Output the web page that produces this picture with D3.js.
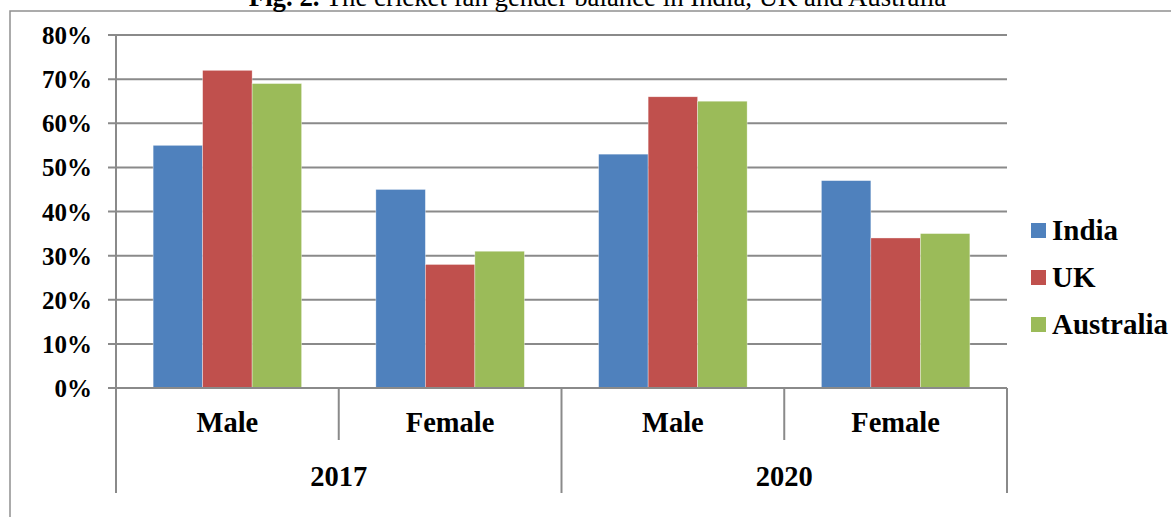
<!DOCTYPE html>
<html>
<head>
<meta charset="utf-8">
<script src="https://cdn.jsdelivr.net/npm/d3@7"></script>
<style>
html,body{margin:0;padding:0;background:#fff;overflow:hidden;}
svg{display:block;}
text{font-family:"Liberation Serif","Times New Roman",serif;fill:#000;}
</style>
</head>
<body>
<svg id="chart" width="1171" height="517"></svg>
<script>
const years = ["2017", "2020"];
const genders = ["Male", "Female"];
const series = ["India", "UK", "Australia"];
const india = [0.55, 0.45, 0.53, 0.47];
const uk = [0.72, 0.28, 0.66, 0.34];
const australia = [0.69, 0.31, 0.65, 0.35];
const yTicks = [0, 0.1, 0.2, 0.3, 0.4, 0.5, 0.6, 0.7, 0.8];
const colors = ["#4F81BD", "#C0504D", "#9BBB59"];

const valuesBySeries = [india, uk, australia];
const categories = [];
years.forEach(yr => genders.forEach(g => categories.push({year: yr, gender: g, id: yr + "-" + g})));

const svg = d3.select("#chart");
const plotLeft = 116, plotRight = 1007, plotTop = 35, plotBase = 388;

const x0 = d3.scaleBand().domain(categories.map(c => c.id)).range([plotLeft, plotRight]).padding(0);
const x1 = d3.scaleBand().domain(series).range([0, x0.bandwidth()]).paddingInner(0).paddingOuter(0.75);
const xYear = d3.scaleBand().domain(years).range([plotLeft, plotRight]).padding(0);
const y = d3.scaleLinear().domain([0, 0.8]).range([plotBase, plotTop]);
const gridColor = "#8a8a8a";

// frame
svg.append("path").attr("d", "M10,517V11H1171").attr("fill", "none")
  .attr("stroke", "#909090").attr("stroke-width", 1.5);

// title (partially cut off at top, as in the source figure)
const title = svg.append("text").attr("x", 597.5).attr("y", 5.5)
  .attr("text-anchor", "middle").style("font-size", "26.8px");
title.append("tspan").style("font-weight", "bold").text("Fig. 2.");
title.append("tspan").text(" The cricket fan gender balance in India, UK and Australia");

// gridlines + y ticks
svg.append("g").selectAll("line").data(yTicks.filter(d => d > 0)).join("line")
  .attr("x1", plotLeft - 8).attr("x2", plotRight)
  .attr("y1", d => y(d)).attr("y2", d => y(d))
  .attr("stroke", gridColor).attr("stroke-width", 2);

// y labels
svg.append("g").selectAll("text").data(yTicks).join("text")
  .attr("x", 92).attr("y", d => y(d) + 9)
  .attr("text-anchor", "end").style("font-size", "25px").style("font-weight", "bold")
  .text(d => d3.format(".0%")(d));

// bars
const cat = svg.append("g").selectAll("g").data(categories).join("g")
  .attr("transform", c => `translate(${x0(c.id)},0)`);
cat.selectAll("rect").data((c, i) => series.map((s, k) => ({s, k, v: valuesBySeries[k][i]}))).join("rect")
  .attr("x", d => x1(d.s)).attr("width", x1.bandwidth())
  .attr("y", d => y(d.v)).attr("height", d => plotBase - y(d.v))
  .attr("fill", d => colors[d.k]).attr("stroke", "#ffffff").attr("stroke-width", 0.6).attr("stroke-opacity", 0.6);

// y axis line
svg.append("line").attr("x1", plotLeft).attr("x2", plotLeft).attr("y1", plotTop).attr("y2", 493)
  .attr("stroke", gridColor).attr("stroke-width", 2);
// baseline
svg.append("line").attr("x1", plotLeft - 8).attr("x2", plotRight).attr("y1", plotBase).attr("y2", plotBase)
  .attr("stroke", gridColor).attr("stroke-width", 2);

// category separators
const catBounds = categories.map(c => x0(c.id)).concat([plotRight]);
svg.append("g").selectAll("line").data(catBounds).join("line")
  .attr("x1", d => d).attr("x2", d => d)
  .attr("y1", plotBase).attr("y2", (d, i) => (i % 2 === 0) ? 493 : 440)
  .attr("stroke", gridColor).attr("stroke-width", 2);

// category labels
svg.append("g").selectAll("text").data(categories).join("text")
  .attr("x", c => x0(c.id) + x0.bandwidth() / 2).attr("y", 432)
  .attr("text-anchor", "middle").style("font-size", "28.5px").style("font-weight", "bold")
  .text(c => c.gender);

// year labels
svg.append("g").selectAll("text").data(years).join("text")
  .attr("x", d => xYear(d) + xYear.bandwidth() / 2).attr("y", 486)
  .attr("text-anchor", "middle").style("font-size", "28.5px").style("font-weight", "bold")
  .text(d => d);

// legend
const leg = svg.append("g").selectAll("g").data(series).join("g")
  .attr("transform", (d, i) => `translate(1031,${223 + i * 47})`);
leg.append("rect").attr("width", 15).attr("height", 15).attr("fill", (d, i) => colors[i]);
leg.append("text").attr("x", 21).attr("y", 17).style("font-size", "29px").style("font-weight", "bold").text(d => d);
</script>
</body>
</html>
